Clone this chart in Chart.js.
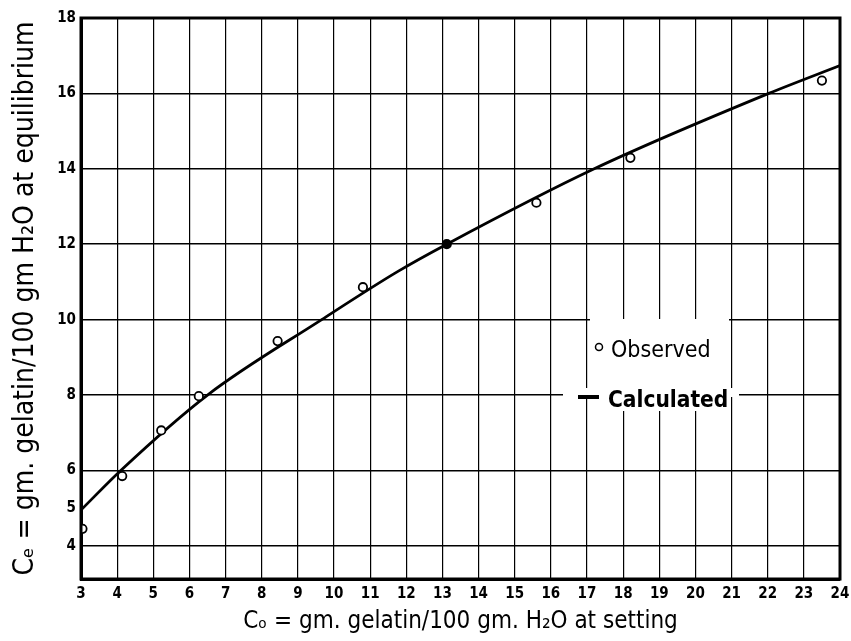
<!DOCTYPE html>
<html>
<head>
<meta charset="utf-8">
<script src="https://cdn.jsdelivr.net/npm/chart.js@4"></script>
<style>
  html, body { margin:0; padding:0; background:#fff; }
  #wrap { width:851px; height:641px; }
</style>
</head>
<body>
<div id="wrap"><canvas id="ch-gelatin" width="851" height="641"></canvas></div>
<script>
// ---------------- data ----------------
const obsX  = [3.04, 4.14, 5.22, 6.26, 8.44, 10.8, 13.12, 15.6, 18.2, 23.5];
const obsY  = [4.45, 5.85, 7.06, 7.97, 9.43, 10.86, 12.0, 13.1, 14.29, 16.34];
const calcX = [3, 4.1, 6.5, 9.66, 11.77, 13.12, 17.2, 22.03, 24];
const calcY = [4.95, 6, 8, 10, 11.28, 12, 14, 16, 16.74];
const yTickVals = [4, 5, 6, 8, 10, 12, 14, 16, 18];
const legendLabels = ['Observed', 'Calculated'];

const FONT = "'DejaVu Sans Condensed', 'Liberation Sans', sans-serif";

// frame round the plot (chart.js only draws left/bottom borders)
const framePlugin = {
  id: 'frame',
  afterDraw(chart) {
    const { ctx, chartArea: a } = chart;
    ctx.save();
    ctx.strokeStyle = '#000';
    ctx.lineWidth = 3;
    ctx.strokeRect(a.left, a.top, a.right - a.left, a.bottom - a.top);
    ctx.restore();
  }
};

// the in-plot key, lettered over a white patch
const keyPlugin = {
  id: 'key',
  afterDraw(chart) {
    const ctx = chart.ctx;
    ctx.save();
    ctx.fillStyle = '#fff';
    ctx.fillRect(590, 319, 139, 92);
    ctx.fillRect(563, 388, 176, 9);

    ctx.fillStyle = '#000';
    ctx.strokeStyle = '#000';
    ctx.textBaseline = 'alphabetic';
    ctx.textAlign = 'left';

    // observed
    ctx.lineWidth = 1.5;
    ctx.beginPath();
    ctx.arc(599, 347, 3.5, 0, Math.PI * 2);
    ctx.stroke();
    ctx.font = '23px ' + FONT;
    ctx.fillText(legendLabels[0], 611, 357);

    // calculated
    ctx.lineWidth = 4;
    ctx.beginPath();
    ctx.moveTo(578, 397);
    ctx.lineTo(599, 397);
    ctx.stroke();
    ctx.font = 'bold 22.5px ' + FONT;
    ctx.fillText(legendLabels[1], 608, 407);
    ctx.restore();
  }
};

const cvs = document.getElementById('ch-gelatin');
new Chart(cvs, {
  type: 'scatter',
  data: {
    datasets: [
      {
        label: 'Calculated',
        data: calcX.map((x, i) => ({ x, y: calcY[i] })),
        showLine: true,
        borderColor: '#000',
        borderWidth: 2.8,
        pointRadius: 0,
        cubicInterpolationMode: 'monotone',
        order: 2
      },
      {
        label: 'Observed',
        data: obsX.map((x, i) => ({ x, y: obsY[i] })),
        showLine: false,
        pointRadius: 4.2,
        pointBorderWidth: 1.8,
        pointBorderColor: '#000',
        pointBackgroundColor: obsX.map((_, i) => i === 6 ? '#000' : '#fff'),
        order: 1
      }
    ]
  },
  options: {
    responsive: false,
    animation: false,
    layout: { padding: { top: 18, right: 11, left: 0, bottom: 0 } },
    plugins: { legend: { display: false }, tooltip: { enabled: false } },
    scales: {
      x: {
        type: 'linear', min: 3, max: 24,
        afterFit: s => { s.height = 62; s.paddingLeft = 0; s.paddingRight = 0; },
        ticks: { stepSize: 1, color: '#000', padding: 6, font: { family: FONT, size: 15, weight: 'bold' } },
        grid: { color: '#000', lineWidth: 1.2, drawTicks: false },
        border: { display: true, color: '#000', width: 3 },
        title: {
          display: true, color: '#000',
          text: 'Cₒ = gm. gelatin/100 gm. H₂O at setting',
          font: { family: FONT, size: 24 },
          padding: { top: 0, bottom: 5 }
        }
      },
      y: {
        type: 'linear', min: 3.12, max: 18,
        afterFit: s => { s.width = 81; s.paddingTop = 0; s.paddingBottom = 0; },
        afterBuildTicks: s => { s.ticks = yTickVals.map(v => ({ value: v })); },
        ticks: { color: '#000', padding: 5, font: { family: FONT, size: 15, weight: 'bold' } },
        grid: {
          color: c => (c.tick && c.tick.value === 5) ? 'rgba(0,0,0,0)' : '#000',
          lineWidth: 1.6, drawTicks: false
        },
        border: { display: true, color: '#000', width: 3 },
        title: {
          display: true, color: '#000',
          text: 'Cₑ = gm. gelatin/100 gm H₂O at equilibrium',
          font: { family: FONT, size: 28 },
          padding: { top: 9, bottom: 0 }
        }
      }
    }
  },
  plugins: [framePlugin, keyPlugin]
});
</script>
</body>
</html>
